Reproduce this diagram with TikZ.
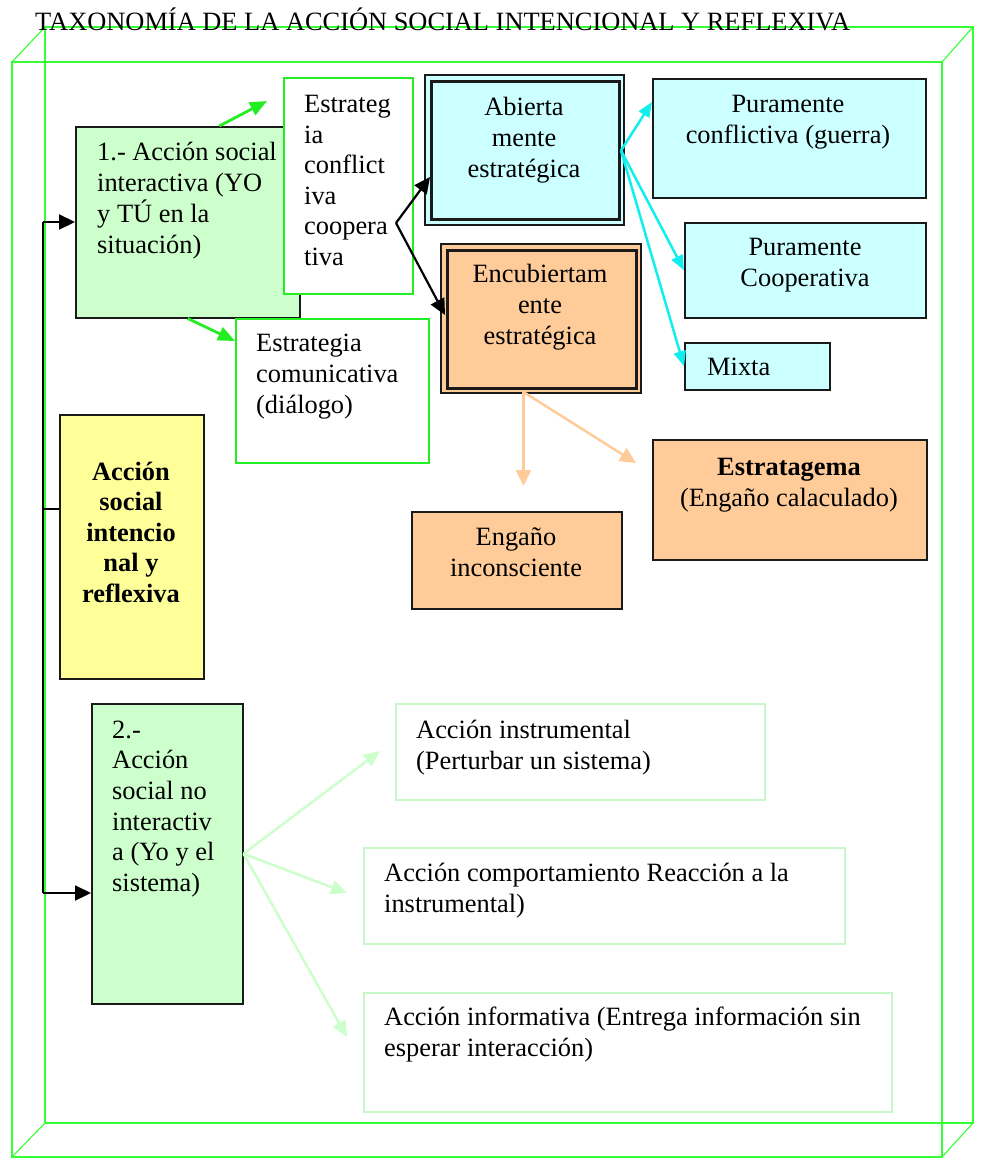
\documentclass[tikz,border=0pt]{standalone}
\usepackage{fontspec}
\setmainfont{Liberation Serif}
\usetikzlibrary{arrows.meta,calc}
\definecolor{lgreen}{HTML}{CCFFCC}
\definecolor{lcyan}{HTML}{CCFFFF}
\definecolor{lorange}{HTML}{FFCC99}
\definecolor{lyellow}{HTML}{FFFF99}
\definecolor{bgreen}{HTML}{22EE22}
\definecolor{cubegreen}{HTML}{33FF33}
\definecolor{acyan}{HTML}{11EEEE}
\definecolor{boxline}{HTML}{1A1A1A}
\definecolor{pgline}{HTML}{C8F8C8}
\begin{document}
\begin{tikzpicture}[x=1pt,y=-1pt,
  box/.style={draw=boxline,line width=1.5pt,inner sep=0pt,anchor=north west},
  gbox/.style={draw=bgreen,line width=1.8pt,fill=white,inner sep=0pt,anchor=north west},
  pbox/.style={draw=pgline,line width=2pt,fill=white,inner sep=0pt,anchor=north west},
  inbox/.style={draw=boxline,line width=3pt,inner sep=0pt,anchor=north west},
  txt/.style={inner sep=0pt,font=\fontsize{26.4}{31}\selectfont},
  cube/.style={draw=cubegreen,line width=1.1pt},
  blkarrow/.style={draw=black,line width=2.2pt,-{Triangle[length=16pt,width=15pt]}},
  grnarrow/.style={draw=bgreen,line width=2.8pt,-{Triangle[length=17pt,width=14pt]}},
  cyanarrow/.style={draw=acyan,line width=2.5pt,-{Triangle[length=15pt,width=12pt]}},
  orgarrow/.style={draw=lorange,line width=2.5pt,-{Triangle[length=16pt,width=15pt]}},
  pgarrow/.style={draw=lgreen,line width=2.5pt,-{Triangle[length=16pt,width=14pt]}},
  busline/.style={draw=black,line width=1.8pt}
]
\useasboundingbox (0,0) rectangle (982,1160);

% cube frame
\draw[cube] (45,27) rectangle (973,1123);
\draw[cube] (12,62) rectangle (942,1157);
\draw[cube] (12,62) -- (45,27);
\draw[cube] (942,62) -- (973,27);
\draw[cube] (12,1157) -- (45,1123);
\draw[cube] (942,1157) -- (973,1123);

% title
\node[txt,anchor=base west] (title) at (35,30) {TAXONOMÍA DE LA ACCIÓN SOCIAL INTENCIONAL Y REFLEXIVA};

% boxes
\node[box,fill=lgreen,minimum width=224pt,minimum height=191pt] (b1) at (75,126) {};
\node[gbox,minimum width=129pt,minimum height=216pt] (b2) at (283,77) {};
\node[gbox,minimum width=193pt,minimum height=144pt] (b4) at (235,318) {};

\node[box,fill=lcyan,minimum width=199pt,minimum height=150pt] (ab) at (424,74) {};
\node[inbox,minimum width=188pt,minimum height=138pt] (abin) at (430,80) {};

\node[box,fill=lcyan,minimum width=273pt,minimum height=119pt] (pc) at (652,78) {};
\node[box,fill=lcyan,minimum width=241pt,minimum height=95pt] (pco) at (684,222) {};
\node[box,fill=lcyan,minimum width=145pt,minimum height=47pt] (mx) at (684,342) {};

\node[box,fill=lorange,minimum width=200pt,minimum height=149pt] (en) at (440,243) {};
\node[inbox,minimum width=189pt,minimum height=138pt] (enin) at (445.5,248.5) {};

\node[box,fill=lorange,minimum width=210pt,minimum height=97pt] (eg) at (411,511) {};
\node[box,fill=lorange,minimum width=274pt,minimum height=120pt] (es) at (652,439) {};

\node[box,fill=lyellow,minimum width=144pt,minimum height=264pt] (ye) at (59,414) {};
\node[box,fill=lgreen,minimum width=151pt,minimum height=300pt] (b6) at (91,703) {};

\node[pbox,minimum width=369pt,minimum height=96pt] (b7) at (395,703) {};
\node[pbox,minimum width=481pt,minimum height=96pt] (b8) at (363,847) {};
\node[pbox,minimum width=528pt,minimum height=119pt] (b9) at (363,992) {};

% texts
\node[txt,anchor=base west] (t1) at (97,160) {\begin{tabular}[t]{@{}l@{}}1.- Acción social\\interactiva (YO\\y TÚ en la\\situación)\end{tabular}};
\node[txt,anchor=base west,font=\fontsize{26.4}{30.6}\selectfont] (t2) at (304,112.5) {\begin{tabular}[t]{@{}l@{}}Estrateg\\ia\\conflict\\iva\\coopera\\tiva\end{tabular}};
\node[txt,anchor=base west] (t4) at (256,351.5) {\begin{tabular}[t]{@{}l@{}}Estrategia\\comunicativa\\(diálogo)\end{tabular}};
\node[txt,anchor=base] (tab) at (524,115) {\begin{tabular}[t]{@{}c@{}}Abierta\\mente\\estratégica\end{tabular}};
\node[txt,anchor=base] (tpc) at (788,112) {\begin{tabular}[t]{@{}c@{}}Puramente\\conflictiva (guerra)\end{tabular}};
\node[txt,anchor=base] (tpco) at (805,255) {\begin{tabular}[t]{@{}c@{}}Puramente\\Cooperativa\end{tabular}};
\node[txt,anchor=base west] (tmx) at (707,375) {Mixta};
\node[txt,anchor=base] (ten) at (540,282.5) {\begin{tabular}[t]{@{}c@{}}Encubiertam\\ente\\estratégica\end{tabular}};
\node[txt,anchor=base] (teg) at (516,545.5) {\begin{tabular}[t]{@{}c@{}}Engaño\\inconsciente\end{tabular}};
\node[txt,anchor=base] (tes) at (789,475) {\begin{tabular}[t]{@{}c@{}}\textbf{Estratagema}\\(Engaño calaculado)\end{tabular}};
\node[txt,anchor=base,font=\fontsize{26.4}{30.5}\selectfont\bfseries] (tye) at (131,480) {\begin{tabular}[t]{@{}c@{}}Acción\\social\\intencio\\nal y\\reflexiva\end{tabular}};
\node[txt,anchor=base west,font=\fontsize{26.4}{30.7}\selectfont] (t6) at (112,738) {\begin{tabular}[t]{@{}l@{}}2.-\\Acción\\social no\\interactiv\\a (Yo y el\\sistema)\end{tabular}};
\node[txt,anchor=base west] (t7) at (416,738) {\begin{tabular}[t]{@{}l@{}}Acción instrumental\\(Perturbar un sistema)\end{tabular}};
\node[txt,anchor=base west] (t8) at (384,881.5) {\begin{tabular}[t]{@{}l@{}}Acción comportamiento Reacción a la\\instrumental)\end{tabular}};
\node[txt,anchor=base west] (t9) at (384,1025) {\begin{tabular}[t]{@{}l@{}}Acción informativa (Entrega información sin\\esperar interacción)\end{tabular}};

% coordinates for free ends / ports
\coordinate (g1end) at (267,101);
\coordinate (bx) at (396,223);
\coordinate (abport) at (430,177);
\coordinate (enport) at (445,315);
\coordinate (enbot) at (523.5,392);
\coordinate (o1end) at (523.5,486);
\coordinate (o2end) at (636,463);
\coordinate (pg1end) at (380,751);
\coordinate (pg2end) at (347,893);
\coordinate (pg3end) at (347,1037);
\coordinate (bustop) at (43,222);
\coordinate (busmid) at (43,509);
\coordinate (busbot) at (43,893);

% connectors
\draw[grnarrow] ($(b1.north west)!0.64!(b1.north east)$) -- (g1end);
\draw[grnarrow] (b1.south) -- ($(b4.north west)+(0,23)$);

\draw[blkarrow] (bx) -- (abport);
\draw[blkarrow] (bx) -- (enport);

\draw[cyanarrow] (abin.east) -- ($(pc.north west)+(0,24)$);
\draw[cyanarrow] (abin.east) -- (pco.west);
\draw[cyanarrow] (abin.east) -- (mx.west);

\draw[orgarrow] (enbot) -- (o1end);
\draw[orgarrow] (enbot) -- (o2end);

\draw[pgarrow] (b6.east) -- (pg1end);
\draw[pgarrow] (b6.east) -- (pg2end);
\draw[pgarrow] (b6.east) -- (pg3end);

\draw[busline] (bustop) -- (busbot);
\draw[busline] (busmid) -- (busmid -| ye.west);
\draw[blkarrow] (bustop) -- (bustop -| b1.west);
\draw[blkarrow] (busbot) -- (busbot -| b6.west);
\end{tikzpicture}
\end{document}
